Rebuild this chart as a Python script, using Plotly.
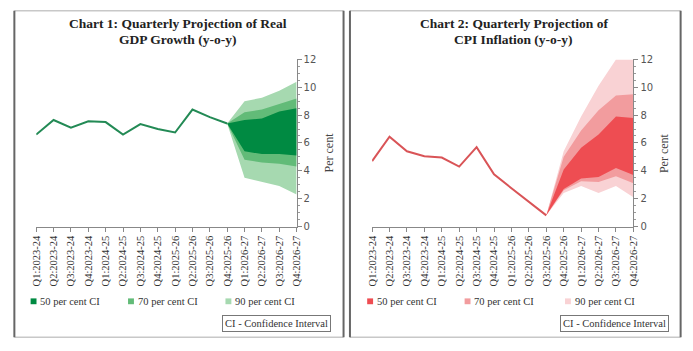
import plotly.graph_objects as go

W, H = 693, 351

quarters = ["Q1:2023-24", "Q2:2023-24", "Q3:2023-24", "Q4:2023-24",
            "Q1:2024-25", "Q2:2024-25", "Q3:2024-25", "Q4:2024-25",
            "Q1:2025-26", "Q2:2025-26", "Q3:2025-26", "Q4:2025-26",
            "Q1:2026-27", "Q2:2026-27", "Q3:2026-27", "Q4:2026-27"]

# Chart 1: GDP growth
gdp_actual = [6.6, 7.65, 7.1, 7.55, 7.5, 6.6, 7.35, 7.0, 6.75, 8.4, 7.85, 7.4]
gdp_fan_q = quarters[11:]
gdp_50_hi = [7.4, 7.65, 7.75, 8.25, 8.5]
gdp_50_lo = [7.4, 5.4, 5.2, 5.2, 5.1]
gdp_70_hi = [7.4, 8.2, 8.4, 8.8, 9.2]
gdp_70_lo = [7.4, 4.8, 4.6, 4.5, 4.3]
gdp_90_hi = [7.4, 9.0, 9.25, 9.75, 10.4]
gdp_90_lo = [7.4, 3.5, 3.2, 2.9, 2.3]

# Chart 2: CPI inflation
cpi_actual = [4.7, 6.45, 5.4, 5.05, 4.95, 4.3, 5.7, 3.75, 2.75, 1.75, 0.8]
cpi_fan_q = quarters[10:]
cpi_50_hi = [0.8, 4.1, 5.65, 6.6, 7.9, 7.8]
cpi_50_lo = [0.8, 2.7, 3.45, 3.55, 4.2, 3.7]
cpi_70_hi = [0.8, 5.0, 6.9, 8.35, 9.4, 9.5]
cpi_70_lo = [0.8, 2.6, 3.25, 3.2, 3.6, 3.1]
cpi_90_hi = [0.8, 5.4, 7.9, 10.1, 12.0, 12.0]
cpi_90_lo = [0.8, 2.4, 2.9, 2.4, 2.9, 2.1]

y_ticks = [0, 2, 4, 6, 8, 10, 12]
ci_labels = ["50 per cent CI", "70 per cent CI", "90 per cent CI"]

green = {"line": "#238a55", "50": "#008a42", "70": "#62bb78", "90": "#a6d9b0"}
red = {"line": "#d95457", "50": "#ee4d52", "70": "#f29c9e", "90": "#f9d2d4"}

SERIF = "Liberation Serif"

def px(x):
    return x / W

def py(y):
    return 1 - y / H

fig = go.Figure()

def band(q, hi, lo, color, xa, ya):
    fig.add_trace(go.Scatter(
        x=list(q) + list(q)[::-1], y=list(hi) + list(lo)[::-1],
        fill="toself", fillcolor=color, mode="lines",
        line=dict(width=0, color=color), xaxis=xa, yaxis=ya,
        showlegend=False, hoverinfo="skip"))

# Chart 1 fans
band(gdp_fan_q, gdp_90_hi, gdp_90_lo, green["90"], "x", "y")
band(gdp_fan_q, gdp_70_hi, gdp_70_lo, green["70"], "x", "y")
band(gdp_fan_q, gdp_50_hi, gdp_50_lo, green["50"], "x", "y")
fig.add_trace(go.Scatter(x=quarters[:len(gdp_actual)], y=gdp_actual, mode="lines",
                         line=dict(color=green["line"], width=2),
                         xaxis="x", yaxis="y", showlegend=False))

# Chart 2 fans
band(cpi_fan_q, cpi_90_hi, cpi_90_lo, red["90"], "x2", "y2")
band(cpi_fan_q, cpi_70_hi, cpi_70_lo, red["70"], "x2", "y2")
band(cpi_fan_q, cpi_50_hi, cpi_50_lo, red["50"], "x2", "y2")
fig.add_trace(go.Scatter(x=quarters[:len(cpi_actual)], y=cpi_actual, mode="lines",
                         line=dict(color=red["line"], width=2),
                         xaxis="x2", yaxis="y2", showlegend=False))

ydom = [py(228), py(56)]

def xaxis(domain, anchor):
    return dict(domain=domain, anchor=anchor, type="category",
                categoryorder="array", categoryarray=quarters,
                range=[0, 15], showgrid=False, zeroline=False,
                showline=True, linecolor="#888", linewidth=1,
                ticks="outside", ticklen=4, tickcolor="#888",
                tickangle=-90, tickfont=dict(family=SERIF, size=10.5, color="#333"),
                fixedrange=True)

def yaxis(domain, anchor):
    return dict(domain=domain, anchor=anchor, side="right", range=[0, 12],
                tickvals=y_ticks, showgrid=False, zeroline=False,
                showline=True, linecolor="#888", linewidth=1,
                ticks="outside", ticklen=4, tickcolor="#888",
                minor=dict(dtick=0.5, ticks="outside", ticklen=2, tickcolor="#999"),
                tickfont=dict(family="DejaVu Sans", size=10, color="#555"),
                fixedrange=True)

fig.update_layout(
    width=W, height=H, margin=dict(l=0, r=0, t=0, b=0),
    paper_bgcolor="white", plot_bgcolor="white",
    xaxis=xaxis([px(30.7), px(295.3)], "y"),
    yaxis=yaxis(ydom, "x"),
    xaxis2=xaxis([px(372), px(637.5)], "y2"),
    yaxis2=yaxis(ydom, "x2"),
    showlegend=False,
)

shapes = []
# panel borders
for (x0, x1) in [(8.5, 343), (349.5, 685.5)]:
    shapes.append(dict(type="line", xref="paper", yref="paper", x0=px(x0), x1=px(x1),
                       y0=py(6), y1=py(6), line=dict(color="#c8c8c8", width=1.5)))
    shapes.append(dict(type="line", xref="paper", yref="paper", x0=px(x0), x1=px(x1),
                       y0=py(342), y1=py(342), line=dict(color="#c8c8c8", width=1.5)))
    for xv in (x0, x1):
        shapes.append(dict(type="line", xref="paper", yref="paper", x0=px(xv), x1=px(xv),
                           y0=py(6), y1=py(342), line=dict(color="#666", width=2)))

annotations = []

def legend(xs, colors):
    for xv, lab, key in zip(xs, ci_labels, ["50", "70", "90"]):
        shapes.append(dict(type="rect", xref="paper", yref="paper",
                           x0=px(xv), x1=px(xv + 6), y0=py(302), y1=py(308),
                           fillcolor=colors[key], line=dict(width=0)))
        annotations.append(dict(text=lab, xref="paper", yref="paper",
                                x=px(xv + 8), y=py(305), xanchor="left", yanchor="middle",
                                showarrow=False, font=dict(family=SERIF, size=10.5, color="#333")))

legend([25, 124, 223], green)
legend([367, 466, 568], red)

def title(lines, xc):
    for txt, yc in zip(lines, (19, 35)):
        annotations.append(dict(text="<b>" + txt + "</b>", xref="paper", yref="paper",
                                x=px(xc), y=py(yc), xanchor="center", yanchor="middle",
                                showarrow=False,
                                font=dict(family=SERIF, size=13.5, color="#222")))

title(["Chart 1: Quarterly Projection of Real", "GDP Growth (y-o-y)"], 175)
title(["Chart 2: Quarterly Projection of", "CPI Inflation (y-o-y)"], 516)

for xc in (328, 668):
    annotations.append(dict(text="Per cent", xref="paper", yref="paper", x=px(xc), y=py(152),
                            xanchor="center", yanchor="middle", textangle=-90, showarrow=False,
                            font=dict(family=SERIF, size=12, color="#444")))

for xc in (275, 618):
    annotations.append(dict(text="CI - Confidence Interval", xref="paper", yref="paper",
                            x=px(xc), y=py(327.5), xanchor="center", yanchor="middle",
                            showarrow=False, bordercolor="#777", borderwidth=1, borderpad=2,
                            font=dict(family=SERIF, size=10.5, color="#333")))

fig.update_layout(shapes=shapes, annotations=annotations)
fig.write_html("out.html")
